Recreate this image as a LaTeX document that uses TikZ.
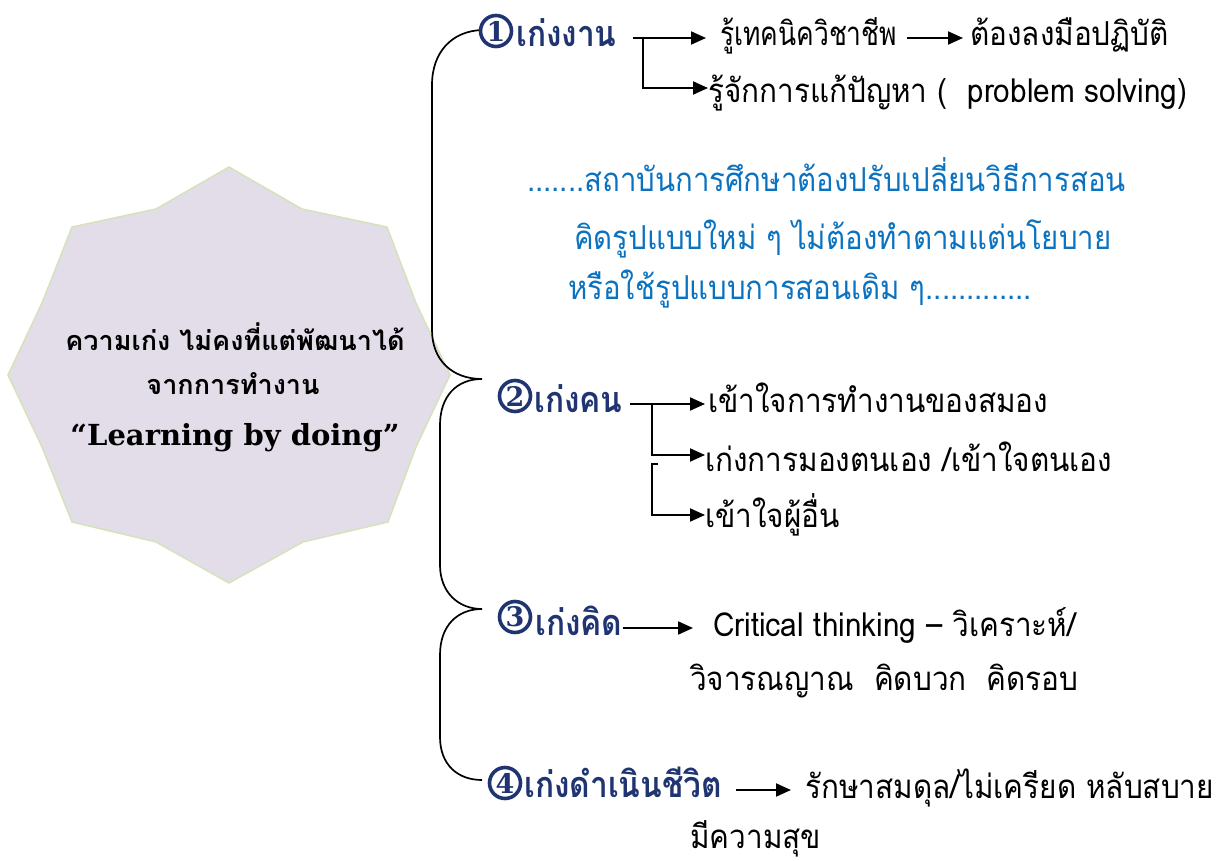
\documentclass[tikz,border=0pt]{standalone}
\usepackage{fontspec}
\usetikzlibrary{arrows.meta,calc}
\newfontfamily\thai[Script=Thai, FakeStretch=0.9]{Loma}
\newfontfamily\thaicond[Script=Thai, FakeStretch=0.8]{Loma}
\newfontfamily\thaiblue[Script=Thai, FakeStretch=0.89]{Loma}
\newfontfamily\thaihead[Script=Thai, FakeStretch=0.88]{Loma}
\newfontfamily\thaistar[Script=Thai]{Loma}
\newfontfamily\serf{DejaVu Serif}
\definecolor{navy}{HTML}{1F3470}
\definecolor{tblue}{HTML}{0B72C0}
\definecolor{starfill}{HTML}{E2DDE9}
\definecolor{starline}{HTML}{D5E3BA}
\tikzset{
  txt/.style={anchor=west, inner sep=0pt, text height=16pt, text depth=0pt, font=\thai\fontsize{33}{38}\selectfont},
  bluetxt/.style={txt, text=tblue, font=\thaiblue\fontsize{33}{38}\selectfont},
  headtxt/.style={anchor=west, inner sep=0pt, text height=18pt, text depth=0pt, text=navy, font=\thaihead\bfseries\fontsize{36}{40}\selectfont},
  numcirc/.style={circle, draw=navy, line width=3.6pt, minimum size=31pt, inner sep=0pt, text=navy, font=\serf\bfseries\fontsize{27}{27}\selectfont},
  startxt/.style={inner sep=0pt, font=\thaistar\bfseries\fontsize{27}{30}\selectfont},
  arr/.style={draw, line width=2pt, -{Triangle[length=15pt,width=13pt]}},
  brace/.style={draw, line width=1.7pt}
}
\begin{document}
\begin{tikzpicture}[x=1pt,y=-1pt]
\useasboundingbox (0,0) rectangle (1223,861);
% star
\draw[fill=starfill, draw=starline, line width=1.5pt]
  (229,167) -- (302,209) -- (387,227) -- (416,303) -- (450,375) -- (416,447) -- (388,522)
  -- (303,542) -- (229,583) -- (156,542) -- (72,522) -- (42,447) -- (8,375) -- (42,303)
  -- (72,227) -- (156,209) -- cycle;
\node[startxt] (s1) at (235,337) {ความเก่ง ไม่คงที่แต่พัฒนาได้};
\node[startxt] (s2) at (233,384) {จากการทำงาน};
\node[inner sep=0pt, font=\serf\bfseries\fontsize{29}{32}\selectfont] (s3) at (235,438) {“Learning by doing”};
% brace
\draw[brace] (482,30) .. controls (452,31) and (432,52) .. (432,85) -- (432,330)
  .. controls (432,360) and (452,379) .. (482,379)
  .. controls (456,379) and (440,397) .. (440,425) -- (440,565)
  .. controls (440,592) and (458,609) .. (482,609)
  .. controls (458,609) and (440,625) .. (440,655) -- (440,737)
  .. controls (440,765) and (458,780) .. (482,780);
% item 1
\node[numcirc] (c1) at (496,31) {1};
\node[headtxt] (h1) at (516,38) {เก่งงาน};
\node[txt, font=\thaicond\fontsize{33}{38}\selectfont] (t1a) at (720,38) {รู้เทคนิควิชาชีพ};
\node[txt] (t1b) at (970,38) {ต้องลงมือปฏิบัติ};
\node[txt] (t1c) at (708,95) {รู้จักการแก้ปัญหา (~~problem solving)};
\coordinate (b1) at (633,38);
\coordinate (b1v) at (643,38);
\draw[arr, shorten >=14pt] (b1) -- (t1a.west);
\draw[arr] (b1v) |- ([yshift=7pt]t1c.west);
\draw[arr, shorten <=10pt, shorten >=7pt] (t1a.east) -- (t1b.west);
% blue text
\node[bluetxt] (p1) at (527,184) {.......สถาบันการศึกษาต้องปรับเปลี่ยนวิธีการสอน};
\node[bluetxt] (p2) at (574,241) {คิดรูปแบบใหม่ ๆ ไม่ต้องทำตามแต่นโยบาย};
\node[bluetxt] (p3) at (568,291) {หรือใช้รูปแบบการสอนเดิม ๆ.............};
% item 2
\node[numcirc] (c2) at (515,396) {2};
\node[headtxt] (h2) at (534,403) {เก่งคน};
\node[txt] (t2a) at (708,404) {เข้าใจการทำงานของสมอง};
\node[txt] (t2b) at (705,463) {เก่งการมองตนเอง /เข้าใจตนเอง};
\node[txt] (t2c) at (705,519) {เข้าใจผู้อื่น};
\coordinate (b2) at (630,404);
\coordinate (b2v) at (652,404);
\coordinate (b2w) at (658,464);
\draw[arr, shorten >=3pt] (b2) -- (t2a.west);
\draw[arr] (b2v) |- ([yshift=8pt]t2b.west);
\draw[arr] (b2w) -- ++(-6,0) |- ([yshift=4pt]t2c.west);
% item 3
\node[numcirc] (c3) at (515,617) {3};
\node[headtxt] (h3) at (535,626) {เก่งคิด};
\node[txt] (t3a) at (713,628) {Critical thinking – วิเคราะห์/};
\node[txt] (t3b) at (690,682) {วิจารณญาณ~~คิดบวก~~คิดรอบ};
\draw[arr, shorten >=20pt] (h3.east |- t3a.west) -- (t3a.west);
% item 4
\node[numcirc] (c4) at (505,783) {4};
\node[headtxt] (h4) at (524,788) {เก่งดำเนินชีวิต};
\node[txt] (t4a) at (805,790) {รักษาสมดุล/ไม่เครียด หลับสบาย};
\node[txt] (t4b) at (690,840) {มีความสุข};
\draw[arr, shorten <=14pt, shorten >=14pt] (h4.east |- t4a.west) -- (t4a.west);
\end{tikzpicture}
\end{document}
